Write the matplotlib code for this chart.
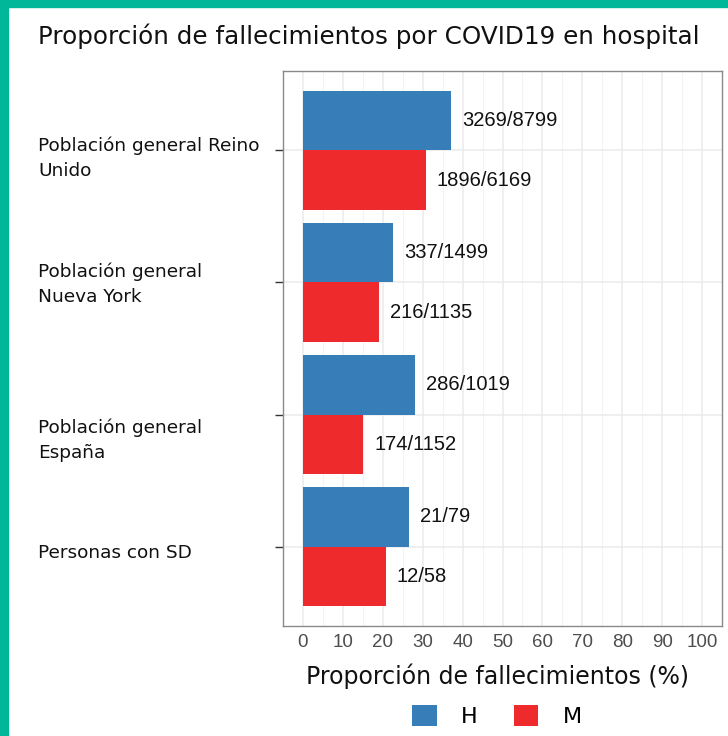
import matplotlib
matplotlib.use("Agg")
import matplotlib.pyplot as plt
from matplotlib.patches import Patch, Rectangle
from matplotlib.transforms import blended_transform_factory
import numpy as np

# data: deaths / hospitalised, by sex
categories = ["Población general Reino\nUnido", "Población general\nNueva York",
              "Población general\nEspaña", "Personas con SD"]
deaths_h = [3269, 337, 286, 21]
total_h = [8799, 1499, 1019, 79]
deaths_m = [1896, 216, 174, 12]
total_m = [6169, 1135, 1152, 58]
sexes = ["H", "M"]

pct_h = 100 * np.array(deaths_h) / np.array(total_h)
pct_m = 100 * np.array(deaths_m) / np.array(total_m)

blue = "#377EB8"
red = "#EE2A2D"
teal = "#00B899"
title_font = "DejaVu Sans"
num_font = "Liberation Sans"

fig = plt.figure(figsize=(7.28, 7.36), dpi=100)
W, H = 728, 736

# teal frame (left and top)
fig.patches.append(Rectangle((0, 0), 8 / W, 1, transform=fig.transFigure, color=teal, zorder=0))
fig.patches.append(Rectangle((0, 1 - 7 / H), 1, 7 / H, transform=fig.transFigure, color=teal, zorder=0))

ax = fig.add_axes([283 / W, 1 - 626 / H, (722 - 283) / W, (626 - 71) / H])

pos = np.arange(len(categories))[::-1] + 1.0
bw = 0.45
ax.barh(pos + bw / 2, pct_h, height=bw, color=blue, zorder=3)
ax.barh(pos - bw / 2, pct_m, height=bw, color=red, zorder=3)

for p, v, d, t in zip(pos, pct_h, deaths_h, total_h):
    ax.annotate(f"{d}/{t}", (v, p + bw / 2), xytext=(8, 0), textcoords="offset points",
                va="center", ha="left", fontsize=14.5, family=num_font, color="#111111")
for p, v, d, t in zip(pos, pct_m, deaths_m, total_m):
    ax.annotate(f"{d}/{t}", (v, p - bw / 2), xytext=(8, 0), textcoords="offset points",
                va="center", ha="left", fontsize=14.5, family=num_font, color="#111111")

ax.set_xlim(-5, 105)
ax.set_ylim(0.4, 4.6)
ax.set_xticks(np.arange(0, 101, 10))
ax.set_xticks(np.arange(5, 100, 10), minor=True)
ax.set_yticks(pos)
ax.set_yticklabels([])
ax.grid(axis="x", which="major", color="#EBEBEB", lw=1.1, zorder=0)
ax.grid(axis="x", which="minor", color="#F3F3F3", lw=0.8, zorder=0)
ax.grid(axis="y", which="major", color="#EBEBEB", lw=1.1, zorder=0)
ax.tick_params(axis="x", which="both", length=0, pad=6, labelsize=13.5, labelcolor="#4D4D4D")
for lab in ax.get_xticklabels():
    lab.set_family(num_font)
ax.tick_params(axis="y", length=6, color="#333333", width=1)
for s in ax.spines.values():
    s.set_color("#8A8A8A")
    s.set_linewidth(1)

# category labels, left aligned
tr = blended_transform_factory(fig.transFigure, ax.transData)
label_dy = [-0.06, -0.015, -0.195, -0.05]
for p, c, dy in zip(pos, categories, label_dy):
    ax.text(38 / W, p + dy, c, transform=tr, ha="left", va="center", fontsize=13.3,
            family=title_font, color="#111111", linespacing=1.5)

fig.text(38 / W, 1 - 36 / H, "Proporción de fallecimientos por COVID19 en hospital",
         ha="left", va="center", fontsize=17.7, family=title_font, color="#111111")
fig.text(497 / W, 1 - 676 / H, "Proporción de fallecimientos (%)",
         ha="center", va="center", fontsize=17, family=title_font, color="#111111")

handles = [Patch(facecolor=blue), Patch(facecolor=red)]
fig.legend(handles, sexes, loc="center", bbox_to_anchor=(497 / W, 1 - 716 / H), ncol=2,
           frameon=False, handlelength=1.1, handleheight=1.1,
           columnspacing=1.6, handletextpad=1.1, prop={"family": title_font, "size": 16})

fig.savefig("out.png", dpi=100)
